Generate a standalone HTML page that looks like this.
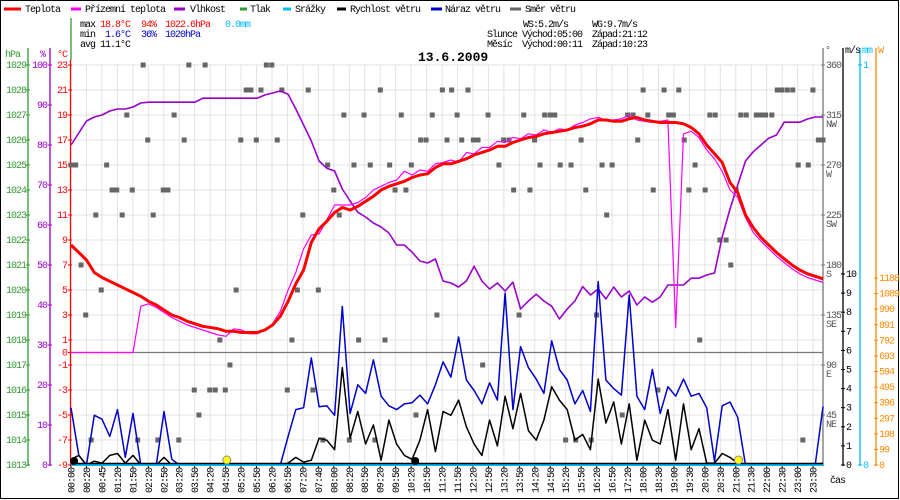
<!DOCTYPE html>
<html><head><meta charset="utf-8"><title>13.6.2009</title>
<style>
html,body{margin:0;padding:0;background:#fff;}
svg{display:block;}
text{font-family:"Liberation Mono",monospace;font-size:10px;letter-spacing:-1px;}
</style></head>
<body>
<svg id="chart" width="900" height="500" viewBox="0 0 900 500" xmlns="http://www.w3.org/2000/svg">
<rect x="0.5" y="0.5" width="898" height="498" fill="#fff" stroke="#000"/>
<g id="grid"></g>
<g id="legend">
  <g><line x1="4" y1="9" x2="21" y2="9" stroke="#f00" stroke-width="3"/><text x="25" y="12">Teplota</text></g>
  <g><line x1="71" y1="9" x2="81" y2="9" stroke="#f0f" stroke-width="3"/><text x="85" y="12">Přízemní teplota</text></g>
  <g><line x1="174" y1="9" x2="185" y2="9" stroke="#90c" stroke-width="3"/><text x="190" y="12">Vlhkost</text></g>
  <g><line x1="240" y1="9" x2="247" y2="9" stroke="#393" stroke-width="3"/><text x="250" y="12">Tlak</text></g>
  <g><line x1="283" y1="9" x2="291" y2="9" stroke="#0bf" stroke-width="3"/><text x="295" y="12">Srážky</text></g>
  <g><line x1="337" y1="9" x2="346" y2="9" stroke="#000" stroke-width="3"/><text x="350" y="12">Rychlost větru</text></g>
  <g><line x1="431" y1="9" x2="442" y2="9" stroke="#00c" stroke-width="3"/><text x="445" y="12">Náraz větru</text></g>
  <g><line x1="510" y1="9" x2="521" y2="9" stroke="#666" stroke-width="3"/><text x="525" y="12">Směr větru</text></g>
</g>
<g>
  <text x="80" y="27">max</text><text x="100" y="27" fill="#f00">18.8°C</text><text x="141" y="27" fill="#f00">94%</text><text x="165" y="27" fill="#f00">1022.6hPa</text><text x="225" y="27" fill="#0bf">0.0mm</text>
  <text x="80" y="37">min</text><text x="105" y="37" fill="#00c">1.6°C</text><text x="141" y="37" fill="#00c">36%</text><text x="165" y="37" fill="#00c">1020hPa</text>
  <text x="80" y="47">avg</text><text x="100" y="47">11.1°C</text>
  <text x="523" y="27">WS:5.2m/s</text><text x="592" y="27">WG:9.7m/s</text>
  <text x="487" y="37">Slunce</text><text x="522" y="37">Východ:05:00</text><text x="592" y="37">Západ:21:12</text>
  <text x="487" y="47">Měsíc</text><text x="522" y="47">Východ:00:11</text><text x="592" y="47">Západ:10:23</text>
</g>
<text x="418" y="61" style="font-size:13px;font-weight:bold;letter-spacing:0">13.6.2009</text>
<g id="axes"></g>
<g id="series"></g>
</svg>
<script>
const tempVals=[8.6,8.0,7.4,6.4,6.0,5.7,5.4,5.1,4.8,4.5,4.1,3.8,3.4,3.0,2.8,2.5,2.3,2.1,2.0,1.9,1.7,1.7,1.6,1.6,1.6,1.8,2.2,2.9,4.1,5.5,6.6,8.8,9.9,10.5,11.2,11.6,11.4,11.7,12.1,12.5,13.0,13.3,13.5,13.7,14.0,14.2,14.3,14.8,15.1,15.1,15.3,15.5,15.8,16.0,16.2,16.5,16.5,16.8,17.0,17.2,17.3,17.5,17.6,17.7,17.8,18.0,18.1,18.3,18.6,18.6,18.5,18.5,18.7,18.8,18.6,18.5,18.4,18.4,18.4,18.3,18.0,17.5,16.6,15.9,15.2,13.6,12.8,11.0,10.0,9.2,8.6,8.0,7.5,7.0,6.6,6.3,6.1,5.9];
const feelsVals=[0,0,0,0,0,0,0,0,0,3.7,3.9,3.6,3.2,2.8,2.5,2.2,2.0,1.8,1.6,1.4,1.3,1.9,1.8,1.5,1.5,1.8,2.3,3.3,5.0,6.4,8.3,9.4,9.5,10.6,11.8,11.8,11.8,12.0,12.4,13.0,13.3,13.6,13.8,14.5,14.2,14.6,14.5,15.1,15.2,15.4,15.2,16.0,15.9,16.4,16.4,16.9,16.8,17.2,17.1,17.5,17.4,17.8,17.6,17.9,17.8,18.2,18.4,18.7,18.8,18.6,18.6,18.7,19.0,18.6,18.5,18.4,18.5,18.6,2.0,17.5,17.7,17.2,16.2,15.5,14.5,13.0,12.4,10.8,9.6,8.9,8.3,7.7,7.2,6.7,6.3,6.0,5.8,5.6];
const humidVals=[80,83,86,87,87.5,88.5,89,89,89.5,90.5,90.7,90.7,90.7,90.7,90.7,90.7,90.7,91.7,91.7,91.7,91.7,91.7,91.7,91.7,91.7,92.5,93,93.5,92.7,89,85,81,76,74.2,73.5,69,66,63.2,62,60.5,59.5,58,55,55,53.2,51,50.5,51.5,46,45.5,44.5,46,49.7,46,44,45.5,43.5,45.7,39,41,42.7,41,39.7,36.5,39,41,44.6,42.5,44,41.5,44.5,42,43.5,40,42,40.7,42,45,45,45,46.7,46.7,47.5,48,57,64,70,76,78.3,80,81.7,82.5,85.7,85.7,85.7,86.5,87,87];
const gustVals=[3.0,0.5,0,2.6,2.4,1.5,2.9,0.4,2.7,0,0,0,2.8,0.3,0,0,0,0,0,0,0,0,0,0,0,0,0,0,1.5,2.9,3.0,5.6,3.05,3.1,2.6,8.3,2.7,4.2,3.75,5.5,3.6,3.1,2.9,3.2,3.26,3.66,3.2,4.2,5.4,4.6,6.7,4.45,3.9,3.2,4.3,3.4,9.0,2.9,6.2,5.1,4.5,3.75,6.5,5.0,4.45,3.2,3.9,2.8,9.6,4.45,4.0,3.66,8.9,3.6,2.9,5.0,2.7,4.1,3.6,4.5,3.6,3.75,3.0,0.2,3.1,3.3,2.5,0,0,0,0,0,0,0,0,0,0,3.05];
const speedVals=[0.3,0.5,0,0.2,0.1,0.5,0.6,0.1,0.5,0,0,0,0.4,0,0,0,0,0,0,0,0,0,0,0,0,0,0,0,0.1,0.4,0.15,0.25,1.4,1.3,0.8,5.1,1.4,2.8,1.1,2.1,0.25,2.35,1.1,0.5,0.3,1.3,2.9,0.7,2.8,2.6,3.4,2.0,1.1,0.5,2.35,1.0,3.6,1.9,3.75,1.8,1.3,2.35,4.1,3.4,2.9,1.3,1.6,0.8,4.5,2.2,3.3,1.1,3.2,0.25,2.35,1.3,1.1,2.9,0.25,3.2,0.8,1.9,0.1,0.1,0.6,0.4,0.1,0,0,0,0,0,0,0,0,0,0,0.1];
const dirIdx=[9.3,15.2,17.3,25.2,25.9, 22.6,23.2,24.5,27.2,30.6,39.9,47.9,49.1,51.2,73.8,76.5,78.4,91.1,91.7,92.4,93.1,95.7, 7.2,13.3,35.2,37.8,42.6,46.6,49.8,53.8,58.4,61.1,61.8,62.4,71.8,72.5,74.4,77.1,77.7,82.4,83.1,86.4,87.1,88.4,89.0,89.6,90.4, 9.9,14.6,21.9,23.9,26.6,45.1,45.8,48.5,50.4,51.9,52.5,55.8,56.5,59.8,65.8,73.1,79.1,96.4,97.0, 0,0.6,4.6,33.1,36.5,38.6,41.1,43.9,55.2,60.5,63.1,64.5,68.5,69.8,80.5,93.8,95.1, 5.3,5.9,7.9,11.9,12.5,33.9,41.8,43.2,57.1,59.2,66.4,75.1,79.7,81.8,85.8, 3.2,6.6,10.6,29.9,34.6,69.1, 83.7,84.5, 1.3,85.1, 3.9,21.3,29.2,31.9, 1.9,47.2,57.8,67.8, 19.2,28.5,37.1,40.5,81.1, 20.5,53.1, 15.9,17.9,18.6,19.9,27.9,31.2,75.7, 16.5,44.5,71.1, 2.6,8.6,11.2,13.9,32.5,35.9,39.2,63.8,65.1,67.1,94.4];
const dirDeg=[360,360,360,360,360, 337.5,337.5,337.5,337.5,337.5,337.5,337.5,337.5,337.5,337.5,337.5,337.5,337.5,337.5,337.5,337.5,337.5, 315,315,315,315,315,315,315,315,315,315,315,315,315,315,315,315,315,315,315,315,315,315,315,315,315, 292.5,292.5,292.5,292.5,292.5,292.5,292.5,292.5,292.5,292.5,292.5,292.5,292.5,292.5,292.5,292.5,292.5,292.5,292.5, 270,270,270,270,270,270,270,270,270,270,270,270,270,270,270,270,270, 247.5,247.5,247.5,247.5,247.5,247.5,247.5,247.5,247.5,247.5,247.5,247.5,247.5,247.5,247.5, 225,225,225,225,225,225, 202.5,202.5, 180,180, 157.5,157.5,157.5,157.5, 135,135,135,135, 112.5,112.5,112.5,112.5,112.5, 90,90, 67.5,67.5,67.5,67.5,67.5,67.5,67.5, 45,45,45, 22.5,22.5,22.5,22.5,22.5,22.5,22.5,22.5,22.5,22.5,22.5];
const timeLabels=["00:00","00:20","00:45","01:20","01:50","02:20","02:50","03:20","03:50","04:20","04:50","05:20","05:50","06:20","06:50","07:20","07:40","08:00","08:20","08:50","09:20","09:50","10:20","10:50","11:20","11:50","12:20","12:50","13:20","13:50","14:20","14:50","15:20","15:50","16:20","16:50","17:20","18:00","18:30","19:00","19:30","20:00","20:30","21:00","21:30","22:00","22:30","23:00","23:30"];
const hpaTicks=[1029,1028,1027,1026,1025,1024,1023,1022,1021,1020,1019,1018,1017,1016,1015,1014,1013];
const humTicks=[100,90,80,70,60,50,40,30,20,10,0];
const tempTicks=[23,21,19,17,15,13,11,9,7,5,3,1,0,-1,-3,-5,-7,-9];
const windTicks=[0,1,2,3,4,5,6,7,8,9,10];
const wattTicks=[0,99,198,297,396,495,594,693,792,891,990,1089,1188];
const dirTicks=[360,315,270,225,180,135,90,45];
const dirNames=["","NW","W","SW","S","SE","E","NE"];
const sunMarks=[20.1,86.1];
const moonMarks=[0.4,44.4];

const NS="http://www.w3.org/2000/svg";
const X0=71,X1=823,Y0=65,Y1=465;
const N=tempVals.length;
const xi=i=>X0+i*(X1-X0)/(N-1);
const yT=t=>352.5-t*12.5;
const yH=h=>Y1-h*4;
const yP=p=>Y1-(p-1013)*25;
const yW=v=>Y1-v*19.1;
const yD=d=>Y1-d*400/360;
const yWatt=w=>Y1-w*187/1188;
const xLab=k=>X0+k*15.46;

function mk(tag,attrs,parent){const e=document.createElementNS(NS,tag);for(const k in attrs)e.setAttribute(k,attrs[k]);parent.appendChild(e);return e;}
const grid=document.getElementById('grid'),axes=document.getElementById('axes'),ser=document.getElementById('series');

for(let y=Y0;y<=Y1;y+=25){const l=mk('line',{x1:X0,x2:X1,y1:y,y2:y,stroke:'#e6e0e0','stroke-width':1},grid);

}
timeLabels.forEach((t,k)=>{const x=xLab(k);const l=mk('line',{x1:x,x2:x,y1:Y0,y2:Y1,stroke:'#e6e0e0','stroke-width':1},grid);

});
const zl=mk('line',{x1:X0,x2:X1,y1:yT(0),y2:yT(0),stroke:'#777','stroke-width':1.2},grid);



function vline(x,y1,y2,c,name){const l=mk('line',{x1:x,x2:x,y1:y1,y2:y2,stroke:c,'stroke-width':1.3},axes);

}
vline(28,48,Y1+1,'#393','pressure-axis');
vline(50,48,Y1+1,'#90c','humidity-axis');
vline(71,18,60,'#393','stats-divider');
vline(70.5,60,Y1+1,'#f00','temperature-axis');
vline(823,48,Y1+1,'#777','direction-axis');
vline(843,48,Y1+1,'#000','wind-axis');
vline(860,48,Y1+1,'#0bf','precip-axis');
vline(876,48,Y1+1,'#f80','solar-axis');
function txt(x,y,s,c,anchor,name){const t=mk('text',{x:x,y:y,fill:c,'text-anchor':anchor||'start'},axes);t.textContent=s;

return t;}
txt(5,57,'hPa','#393','start','pressure-unit');
txt(40,57,'%','#90c','start','humidity-unit');
txt(57,57,'°C','#f00','start','temperature-unit');
txt(825,53,'°','#555','start','direction-unit');
txt(845,53,'m/s','#000','start','wind-unit');
txt(862,53,'mm','#0bf','start','precip-unit');
txt(878,53,'W','#f80','start','solar-unit');
hpaTicks.forEach(p=>{const y=yP(p);txt(26,y+3,String(p),'#393','end','pressure-tick-label');mk('line',{x1:26,x2:30,y1:y,y2:y,stroke:'#393'},axes);});
humTicks.forEach(h=>{const y=yH(h);txt(47,y+3,String(h),'#90c','end','humidity-tick-label');mk('line',{x1:48,x2:52,y1:y,y2:y,stroke:'#90c'},axes);});
tempTicks.forEach(t=>{const y=yT(t);txt(67,y+3,String(t),'#f00','end','temperature-tick-label');mk('line',{x1:68,x2:72,y1:y,y2:y,stroke:'#f00'},axes);});
windTicks.forEach(v=>{const y=yW(v);txt(846,y+3,String(v),'#000','start','wind-tick-label');mk('line',{x1:841,x2:845,y1:y,y2:y,stroke:'#000'},axes);});
wattTicks.forEach(w=>{const y=yWatt(w);txt(879,y+3,String(w),'#f80','start','solar-tick-label');mk('line',{x1:874,x2:878,y1:y,y2:y,stroke:'#f80'},axes);});
txt(863,68,'1','#0bf','start','precip-tick-label');mk('line',{x1:858,x2:862,y1:65,y2:65,stroke:'#0bf'},axes);
txt(863,468,'0','#0bf','start','precip-tick-label');mk('line',{x1:858,x2:862,y1:465,y2:465,stroke:'#0bf'},axes);
dirTicks.forEach((d,k)=>{const y=yD(d);txt(826,y+3,String(d),'#555','start','direction-tick-label');if(dirNames[k])txt(826,y+12,dirNames[k],'#555','start','direction-name-label');mk('line',{x1:821,x2:825,y1:y,y2:y,stroke:'#777'},axes);});
timeLabels.forEach((s,k)=>{const x=xLab(k);const t=mk('text',{x:0,y:0,fill:'#000','text-anchor':'end',transform:`translate(${x+3.5},468) rotate(-90)`},axes);t.textContent=s;


mk('line',{x1:x,x2:x,y1:465,y2:468,stroke:'#000'},axes);});
txt(830,483,'čas','#000','start','x-axis-title');

dirIdx.forEach((p,k)=>{const r=mk('rect',{x:xi(p)-2.5,y:yD(dirDeg[k])-2.5,width:5,height:5,fill:'#666'},ser);

});

function path(vals,yf,color,w,name){const d=vals.map((v,i)=>(i?'L':'M')+xi(i).toFixed(1)+' '+yf(v).toFixed(1)).join(' ');
const p=mk('path',{d:d,fill:'none',stroke:color,'stroke-width':w,'stroke-linejoin':'round'},ser);

}
path(humidVals,yH,'#90c',1.6,'humidity-line');
path(gustVals,yW,'#00c',1.5,'gust-line');
path(speedVals,yW,'#000',1.5,'wind-speed-line');
path(feelsVals,yT,'#f0f',1.2,'feels-like-line');
path(tempVals,yT,'#f00',3,'temperature-line');

const pl=mk('line',{x1:X0,x2:X1,y1:465,y2:465,stroke:'#0bf','stroke-width':2},ser);


const bl=mk('line',{x1:X0,x2:X1,y1:463.5,y2:463.5,stroke:'#000','stroke-width':1.5},ser);


sunMarks.forEach(p=>{const c=mk('circle',{cx:xi(p),cy:460,r:4,fill:'#ff0',stroke:'#888','stroke-width':1},ser);

});
moonMarks.forEach(p=>{const c=mk('circle',{cx:xi(p),cy:461,r:4,fill:'#000'},ser);

});
</script>
</body></html>
